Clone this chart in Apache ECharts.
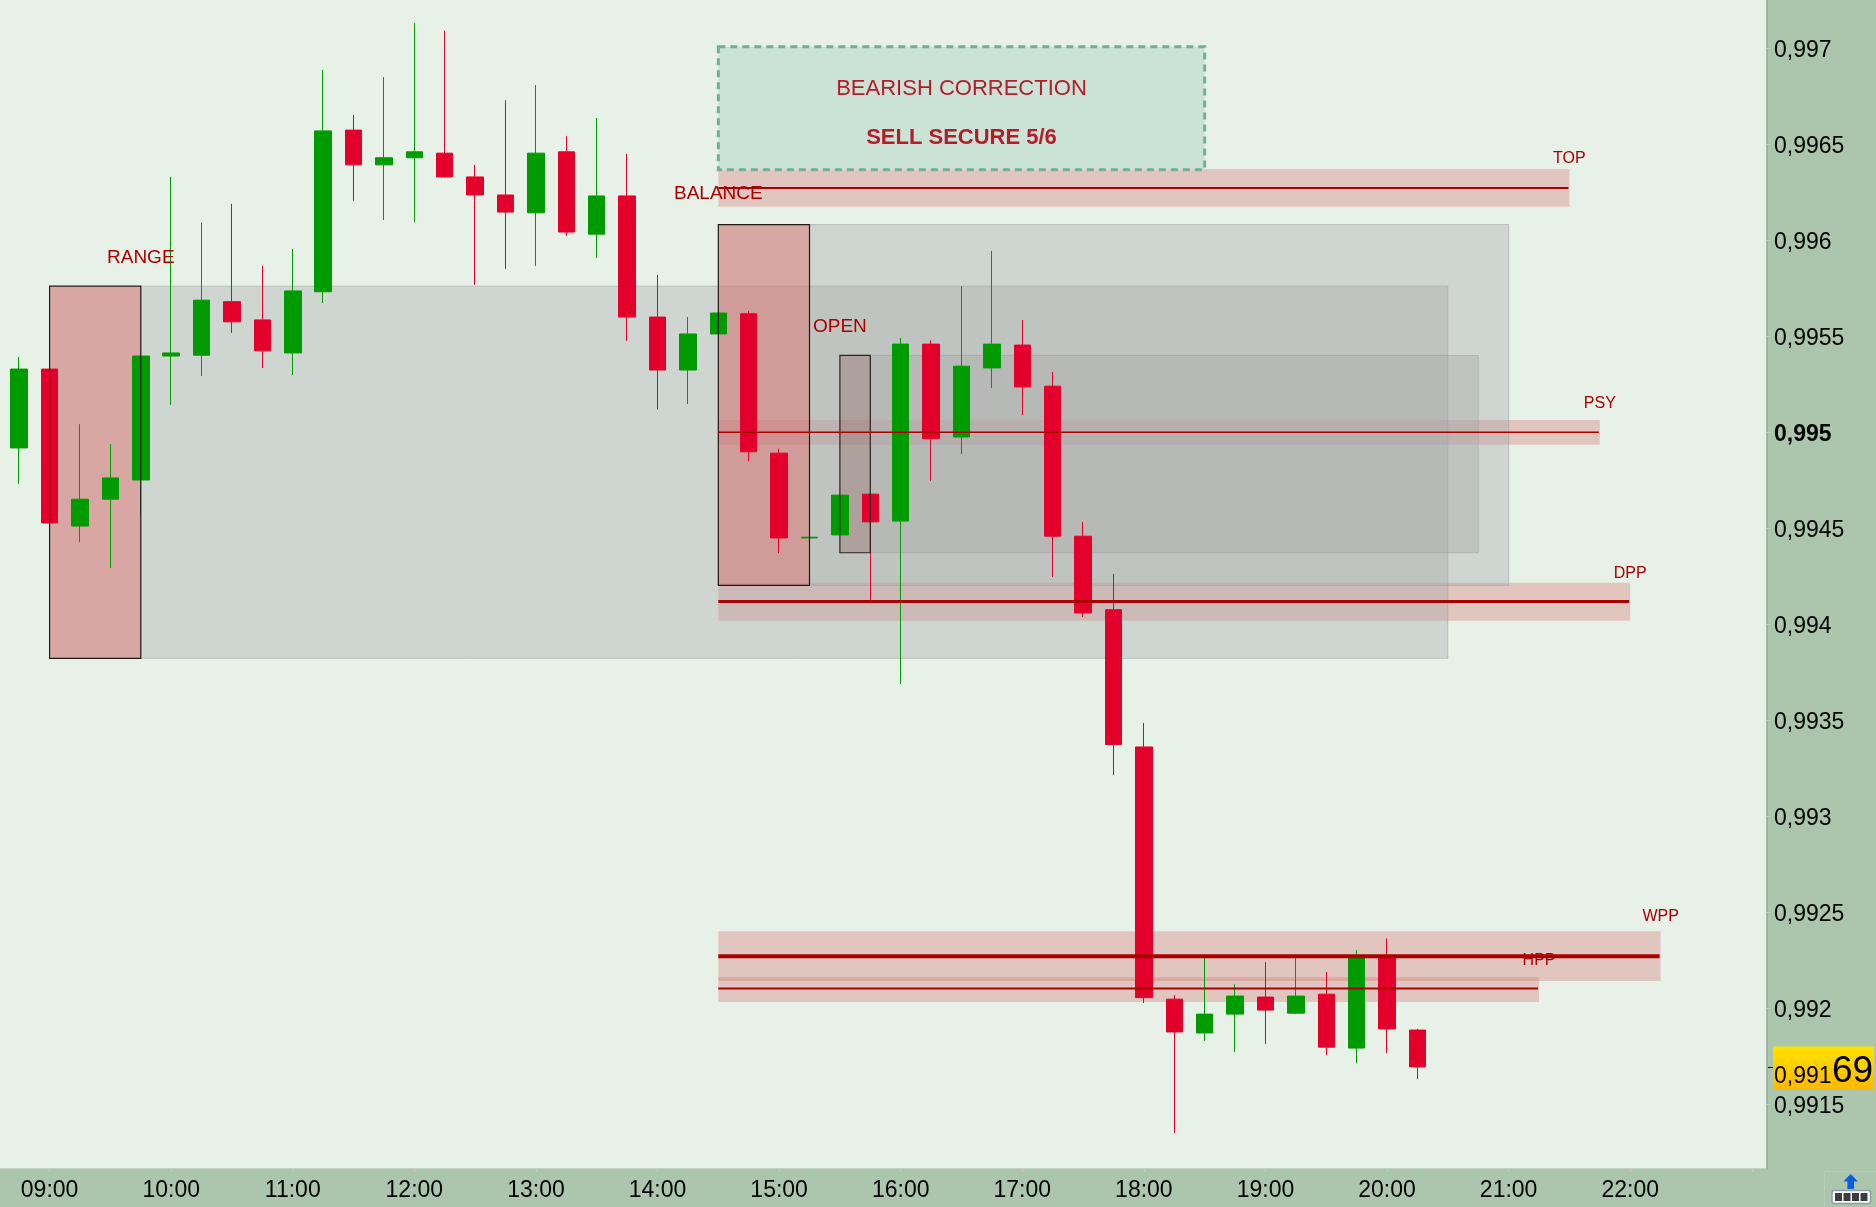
<!DOCTYPE html>
<html><head><meta charset="utf-8">
<style>html,body{margin:0;padding:0;background:#e7f1e8;overflow:hidden}#c{width:1876px;height:1207px}</style>
<script src="https://cdn.jsdelivr.net/npm/echarts@6/dist/echarts.min.js"></script>
</head><body><div id="c"></div>
<script>
const timeSlots = ["08:45","09:00","09:15","09:30","09:45","10:00","10:15","10:30","10:45","11:00","11:15","11:30","11:45","12:00","12:15","12:30","12:45","13:00","13:15","13:30","13:45","14:00","14:15","14:30","14:45","15:00","15:15","15:30","15:45","16:00","16:15","16:30","16:45","17:00","17:15","17:30","17:45","18:00","18:15","18:30","18:45","19:00","19:15","19:30","19:45","20:00","20:15","20:30","20:45","21:00","21:15","21:30","21:45","22:00","22:15","22:30","22:45","23:00"];
const hourTicks = ["09:00","10:00","11:00","12:00","13:00","14:00","15:00","16:00","17:00","18:00","19:00","20:00","21:00","22:00","23:00"];
const hourLabels = ["09:00","10:00","11:00","12:00","13:00","14:00","15:00","16:00","17:00","18:00","19:00","20:00","21:00","22:00"];
const priceTicks = [0.9915,0.992,0.9925,0.993,0.9935,0.994,0.9945,0.995,0.9955,0.996,0.9965,0.997];
// [open, close, low, high]
const candles = [
[.994918,.995329,.994731,.995392],[.995329,.994527,.994527,.995329],[.994511,.994651,.994427,.995042],[.994651,.994762,.994292,.994938],
[.994751,.995397,.994563,.995397],[.995397,.995413,.995142,.99633],[.995401,.995688,.995293,.996093],[.99568,.995575,.995517,.99619],
[.995585,.995424,.995334,.995867],[.995413,.995736,.995298,.995955],[.995732,.99657,.995673,.996888],[.996574,.996393,.996206,.996653],
[.996393,.99643,.996106,.99685],[.99643,.996461,.996095,.997132],[.996454,.99633,.996326,.997092],[.99633,.996236,.995768,.996393],
[.996236,.996147,.995851,.99673],[.996143,.996454,.995867,.996809],[.996461,.996043,.996023,.996542],[.996032,.996231,.995908,.996637],
[.996231,.9956,.995476,.99645],[.9956,.995324,.995119,.995819],[.995324,.995512,.995147,.9956],[.995512,.995621,.995512,.995621],
[.995617,.994898,.994849,.995631],[.994891,.994449,.99437,.994914],[.994449,.994453,.994449,.994453],[.994465,.994672,.994465,.994672],
[.994677,.994533,.994124,.994677],[.994537,.995459,.993688,.995491],[.995459,.994966,.994747,.995479],[.994975,.995344,.994886,.995761],
[.995335,.995459,.995231,.995945],[.995454,.995236,.995089,.995584],[.99524,.994458,.994246,.995314],[.994458,.994058,.994037,.994533],
[.994075,.993373,.993213,.994261],[.99336,.992054,.992026,.993485],[.992046,.991875,.991348,.992067],[.99187,.991968,.991828,.99227],
[.991968,.992062,.99177,.992124],[.992057,.991989,.991812,.992239],[.991973,.992062,.991968,.99227],[.992072,.991796,.991754,.992187],
[.991791,.992268,.991712,.992302],[.992265,.991891,.991764,.992363],[.991885,.991693,.991629,.991891]
];
// [start, end, top price, bottom price]
const grayZones = [["09:45","20:30",.995761,.993822],["15:15","21:00",.996082,.994202],["15:45","20:45",.9954,.994372]];
const openingBoxes = [["09:00","09:45",.995761,.993822],["14:30","15:15",.996082,.994202]];
const openBox = [["15:30","15:45",.9954,.994372]];
// [start, end, top price, bottom price, line price]
const levels = [
["14:30","21:30",.996372,.996175,.996273],
["14:30","21:45",.995064,.994935,.995],
["14:30","22:00",.994215,.994018,.994118],
["14:30","22:15",.9924,.992141,.99227],
["14:30","21:15",.99216,.992031,.992101]];
const levelLineWidths = [2,1.5,3,4,2];
const labelNames = ["RANGE","BALANCE","OPEN","TOP","PSY","DPP","WPP","HPP"];
const labelTimes = ["09:45","14:30","15:30","21:30","21:45","22:00","22:15","21:15"];
const labelPrices = [.995909,.99624,.995551,.996424,.99515,.994265,.992476,.992245];
const labelSizes = [19,19,19,16,16,16,16,16];
const noteBox = [["14:30","18:30",.997008,.996368]];
const noteTexts = ["BEARISH CORRECTION","SELL SECURE 5/6"];
const noteTime = "16:30";
const notePrices = [.996789,.996533];
const lastPrice = 0.99169;

const FONT = '"Liberation Sans", Arial, sans-serif';
const PLOT_BG = '#e7f1e8', PANEL = '#abc6ac', UP = '#009b00', DOWN = '#e3002b', LABEL = '#aa0000';
const ix = t => timeSlots.indexOf(t);
const rectRows = a => a.map(r => [ix(r[0]), r[2], ix(r[1]), r[3]]);

function rectSeries(rows, style, z) {
  return { type: 'custom', z, silent: true, animation: false, coordinateSystem: 'cartesian2d', encode: {x: 0, y: 1}, data: rows,
    renderItem: (params, api) => {
      const a = api.coord([api.value(0), api.value(1)]), b = api.coord([api.value(2), api.value(3)]);
      return { type: 'rect', shape: {x: a[0], y: a[1], width: b[0]-a[0], height: b[1]-a[1]}, style: Object.assign({}, style) };
    } };
}
function lineSeries() {
  return { type: 'custom', z: 5, silent: true, animation: false, encode: {x: 0, y: 1},
    data: levels.map(l => [ix(l[0]), l[4], ix(l[1])]),
    renderItem: (params, api) => {
      const a = api.coord([api.value(0), api.value(1)]), b = api.coord([api.value(2), api.value(1)]);
      return { type: 'line', shape: {x1: a[0], y1: a[1], x2: b[0]-1, y2: b[1]}, style: {stroke: LABEL, lineWidth: levelLineWidths[params.dataIndex]} };
    } };
}
function textSeries() {
  return { type: 'custom', z: 7, silent: true, animation: false, encode: {x: 0, y: 1},
    data: labelNames.map((n, i) => [ix(labelTimes[i]), labelPrices[i]]),
    renderItem: (params, api) => {
      const a = api.coord([api.value(0), api.value(1)]), i = params.dataIndex;
      return { type: 'text', style: {text: labelNames[i], x: a[0], y: a[1], fill: LABEL, font: labelSizes[i] + 'px ' + FONT, align: 'center', verticalAlign: 'middle'} };
    } };
}
function noteTextSeries() {
  return { type: 'custom', z: 7, silent: true, animation: false, encode: {x: 0, y: 1},
    data: noteTexts.map((n, i) => [ix(noteTime), notePrices[i]]),
    renderItem: (params, api) => {
      const a = api.coord([api.value(0), api.value(1)]), i = params.dataIndex;
      return { type: 'text', style: {text: noteTexts[i], x: a[0], y: a[1], fill: '#b51c28', font: (i ? 'bold ' : '') + '22px ' + FONT, align: 'center', verticalAlign: 'middle'} };
    } };
}
function priceTagSeries() {
  return { type: 'custom', z: 8, silent: true, animation: false, clip: false, encode: {x: 0, y: 1},
    data: [[ix(timeSlots[candles.length-1]), lastPrice]],
    renderItem: (params, api) => {
      const y = api.coord([api.value(0), api.value(1)])[1], r = params.coordSys.x + params.coordSys.width;
      const s = String(lastPrice).replace('.', ',');
      return { type: 'group', children: [
        { type: 'line', shape: {x1: r+1, y1: y, x2: r+6, y2: y}, style: {stroke: '#000', lineWidth: 1} },
        { type: 'rect', shape: {x: r+6, y: y-21, width: 101, height: 43}, style: {
            fill: new echarts.graphic.LinearGradient(0,0,0,1,[{offset:0,color:'#ffe300'},{offset:1,color:'#ffb900'}])} },
        { type: 'text', style: {text: s.slice(0,5), x: r+7, y: y+21, fill: '#000', font: '23px ' + FONT, verticalAlign: 'bottom', align: 'left'} },
        { type: 'text', style: {text: s.slice(5), x: r+65, y: y+23, fill: '#000', font: '37px ' + FONT, verticalAlign: 'bottom', align: 'left'} }
      ] };
    } };
}

const chart = echarts.init(document.getElementById('c'), null, {renderer: 'canvas', width: 1876, height: 1207});
const option = {
  animation: false,
  backgroundColor: PLOT_BG,
  textStyle: {fontFamily: FONT},
  graphic: [
    {type:'rect', z:-1, shape:{x:1767,y:0,width:109,height:1207}, style:{fill:PANEL}},
    {type:'rect', z:-1, shape:{x:0,y:1169,width:1876,height:38}, style:{fill:PANEL}},
    {type:'line', z:0, shape:{x1:0,y1:1169,x2:1767,y2:1169}, style:{stroke:'#b6c3b8', lineWidth:1.5}},
    {type:'rect', z:1, shape:{x:1824.5,y:1171.5,width:52,height:36}, style:{fill:PANEL, stroke:'#b9cbbb', lineWidth:1}},
    {type:'polygon', z:2, shape:{points:[[1850.7,1174],[1858,1181.5],[1854,1181.5],[1854,1189],[1847.4,1189],[1847.4,1181.5],[1843.4,1181.5]]}, style:{fill:'#0a5fdc'}},
    {type:'rect', z:2, shape:{x:1832,y:1190.5,width:38.5,height:13,r:2}, style:{fill:'#fff', stroke:'#8b9ea8', lineWidth:1.5}},
    {type:'rect', z:3, shape:{x:1835,y:1193,width:7,height:8}, style:{fill:'#3c3c3c'}},
    {type:'rect', z:3, shape:{x:1843.5,y:1193,width:7,height:8}, style:{fill:'#3c3c3c'}},
    {type:'rect', z:3, shape:{x:1852,y:1193,width:7,height:8}, style:{fill:'#3c3c3c'}},
    {type:'rect', z:3, shape:{x:1860.5,y:1193,width:7,height:8}, style:{fill:'#3c3c3c'}}
  ],
  grid: {left: 4, top: 0, width: 1763, height: 1169, containLabel: false},
  xAxis: {
    type: 'category', data: timeSlots, boundaryGap: true,
    axisLine: {show: false},
    axisTick: {show: true, alignWithLabel: true, length: 3, interval: (i, v) => hourTicks.includes(v), lineStyle: {color: '#bfcfc1'}},
    axisLabel: {interval: (i, v) => hourLabels.includes(v), fontSize: 23, color: '#000', margin: 10, fontFamily: FONT, hideOverlap: false},
    splitLine: {show: false}
  },
  yAxis: {
    type: 'value', position: 'right', min: 0.991161, max: 0.997252, scale: true,
    axisLine: {show: true, lineStyle: {color: '#93a896', width: 1.5}},
    axisTick: {show: true, length: 4, customValues: priceTicks, lineStyle: {color: '#bfcfc1'}},
    axisLabel: {customValues: priceTicks, fontSize: 23, color: '#000', margin: 7, fontFamily: FONT, showMinLabel: true, showMaxLabel: true, padding: [5,0,0,0],
      formatter: v => { const s = String(parseFloat(v.toFixed(4))).replace('.', ','); return Math.abs(v-0.995) < 1e-7 ? '{b|' + s + '}' : s; },
      rich: {b: {fontWeight: 'bold', fontSize: 23, color: '#000', fontFamily: FONT}}},
    splitLine: {show: false}
  },
  series: [
    rectSeries(rectRows(levels), {fill: 'rgba(211,98,100,0.3)'}, 1),
    rectSeries(rectRows(grayZones), {fill: 'rgba(168,168,168,0.38)', stroke: 'rgba(150,150,150,0.45)', lineWidth: 1}, 1),
    rectSeries(rectRows(openingBoxes), {fill: 'rgba(209,119,117,0.6)'}, 1),
    rectSeries(rectRows(openBox), {fill: 'rgba(155,124,121,0.5)'}, 1),
    { type: 'candlestick', z: 3, data: candles, barWidth: 17, silent: true, animation: false,
      itemStyle: {color: UP, color0: DOWN, borderColor: UP, borderColor0: DOWN, borderWidth: 1} },
    rectSeries(rectRows(openingBoxes), {fill: 'none', stroke: '#221a18', lineWidth: 1.2}, 4),
    rectSeries(rectRows(openBox), {fill: 'none', stroke: '#2a2422', lineWidth: 1.2}, 4),
    lineSeries(),
    rectSeries(rectRows(noteBox), {fill: '#cbe2d6', stroke: '#70b096', lineWidth: 3, lineDash: [7, 5]}, 6),
    noteTextSeries(),
    textSeries(),
    priceTagSeries()
  ]
};
chart.setOption(option);
</script></body></html>
